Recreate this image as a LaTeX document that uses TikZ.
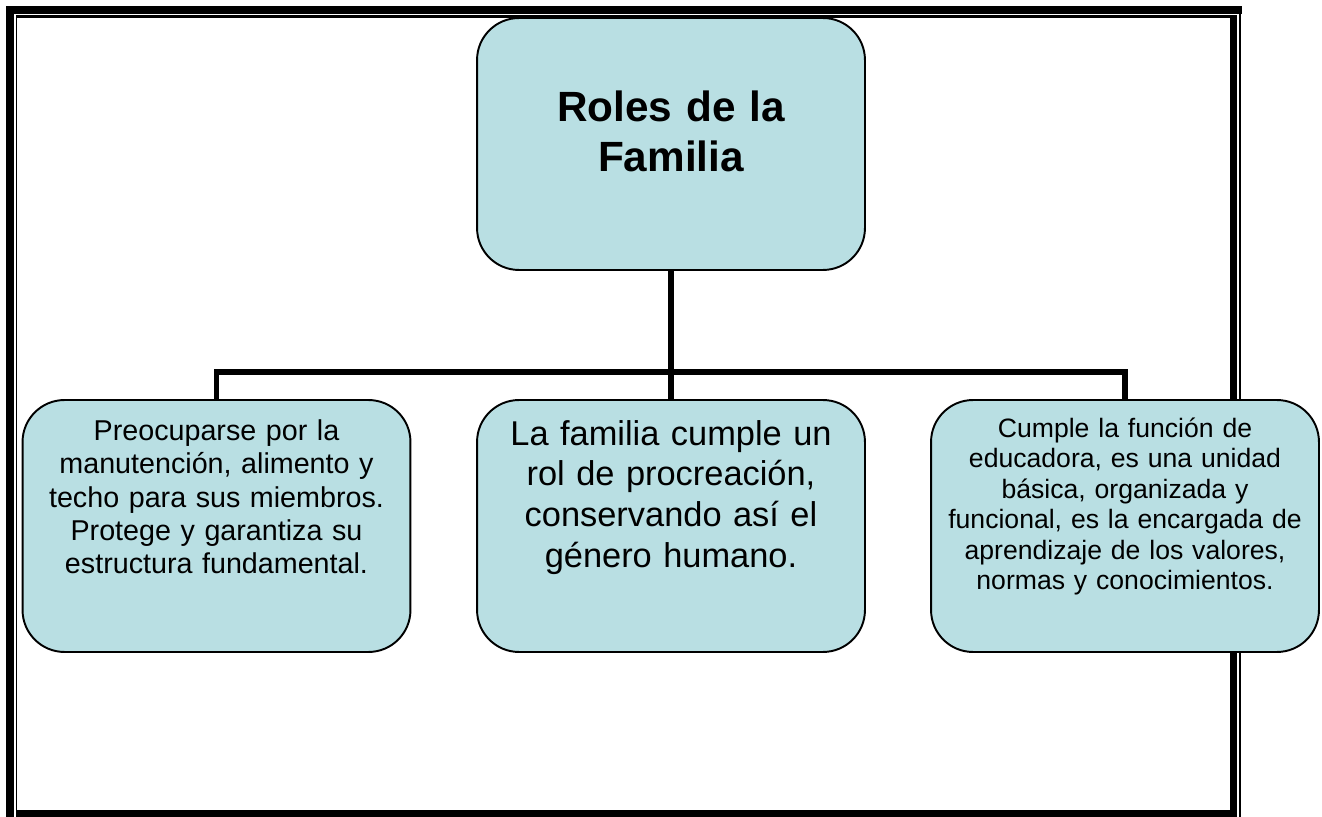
\documentclass[tikz,border=0pt]{standalone}
\usepackage{fontspec}
\setmainfont{Liberation Sans}
\usetikzlibrary{positioning}
\definecolor{rolefill}{RGB}{185,223,227}

\begin{document}
\begin{tikzpicture}[x=0.02cm,y=-0.02cm,
  rolebox/.style={draw=black,line width=1.1pt,fill=rolefill,rounded corners=0.84cm,minimum width=7.76cm,minimum height=5.04cm,inner sep=0},
  roletext/.style={anchor=base,align=center,text width=7.4cm,inner sep=0},
  link/.style={line width=3.4pt}]
\useasboundingbox (0,0) rectangle (1322,817);

% marco de la pagina
\fill (6,6) rectangle (1242,14);
\fill (6,6) rectangle (14,817);
\fill (15.7,15.3) rectangle (1230,17.7);
\fill (15.7,15.3) rectangle (17.3,817);
\fill (1230,15.3) rectangle (1237.3,817);
\fill (1239.3,14) rectangle (1241.3,817);
\fill (15.7,810) rectangle (1237.3,817);

\node[rolebox](roles) at (671,144){};
\node[rolebox](sustento) at (216.5,526){};
\node[rolebox](procrea) at (671,526){};
\node[rolebox](educa) at (1125,526){};
\coordinate (bar) at (671,372);

\path
(roles) edge[link] (procrea);
\draw[link] (sustento.north) |- (bar) -| (educa.north);

\node[roletext,font=\bfseries\fontsize{24.07pt}{28.46pt}\selectfont](rolestxt) at (671,121.7){Roles de la\\Familia};
\node[roletext,font=\fontsize{16.33pt}{18.95pt}\selectfont](sustentotxt) at (216.5,440.7){Preocuparse por la\\manutención, alimento y\\techo para sus miembros.\\Protege y garantiza su\\estructura fundamental.};
\node[roletext,font=\fontsize{19.58pt}{23.16pt}\selectfont](procreatxt) at (671,445){La familia cumple un\\rol de procreación,\\conservando así el\\género humano.};
\node[roletext,font=\fontsize{15.14pt}{17.36pt}\selectfont](educatxt) at (1125,437.3){Cumple la función de\\educadora, es una unidad\\básica, organizada y\\funcional, es la encargada de\\aprendizaje de los valores,\\normas y conocimientos.};
\end{tikzpicture}
\end{document}
